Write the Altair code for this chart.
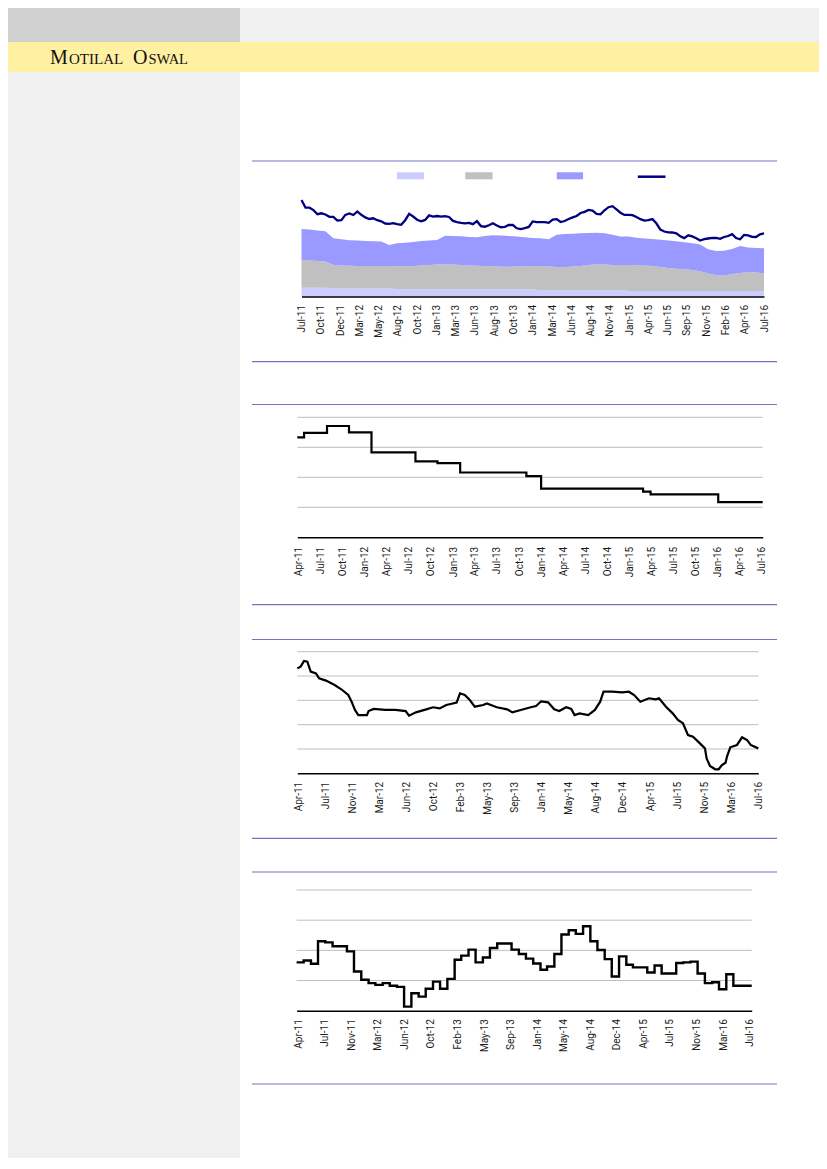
import json
import altair as alt
import pandas as pd

# ---------------- data ----------------
# Chart 1: stacked areas (monthly-ish) + navy line
c1_labels = ['Jul-11', 'Oct-11', 'Dec-11', 'Mar-12', 'May-12', 'Aug-12', 'Oct-12', 'Jan-13',
             'Mar-13', 'Jun-13', 'Aug-13', 'Oct-13', 'Jan-14', 'Mar-14', 'Jun-14', 'Aug-14',
             'Nov-14', 'Jan-15', 'Apr-15', 'Jun-15', 'Sep-15', 'Nov-15', 'Feb-16', 'Apr-16', 'Jul-16']
c1_series = ['Series 1', 'Series 2', 'Series 3']
c1_light = [4.4] * 4 + [4.1] * 8 + [3.6] * 18 + [3.1] * 11 + [2.75] * 18
c1_grey = [13.85, 13.6, 13.35, 13.1, 11.65, 11.4, 11.25, 11.15, 11.15, 11.15,
           11.15, 11.15, 11.5, 11.5, 11.65, 11.9, 12.15, 12.4, 12.5, 12.4,
           12.15, 11.9, 11.75, 11.65, 11.5, 11.3, 11.3, 11.4, 11.5, 11.65,
           12.15, 11.9, 11.65, 11.5, 11.9, 12.15, 12.65, 13.0, 12.9, 12.65,
           12.65, 13.0, 12.85, 12.7, 12.5, 12.0, 11.5, 11.1, 10.85, 10.5,
           9.9, 8.75, 8.0, 7.65, 8.5, 9.0, 9.5, 9.25, 8.85]
c1_blue = [15.5, 15.5, 15.25, 15.1, 13.35, 13.1, 12.8, 12.75, 12.5, 12.4,
           12.25, 10.5, 11.5, 11.8, 12.0, 12.25, 12.25, 12.25, 14.3, 14.25,
           14.35, 14.25, 14.25, 15.0, 15.5, 15.6, 15.35, 15.0, 14.5, 14.0,
           13.85, 13.6, 16.15, 16.65, 16.4, 16.35, 16.0, 15.8, 15.6, 15.15,
           14.25, 14.25, 13.75, 13.55, 13.5, 13.6, 13.75, 13.75, 13.5, 13.4,
           13.35, 12.1, 12.0, 12.45, 12.5, 13.5, 12.25, 12.25, 12.5]
c1_line = [48.25, 44.45, 44.4, 43.2, 41.15, 41.6, 41.0, 39.85, 39.85, 38.0,
           38.15, 40.8, 41.5, 40.75, 42.5, 40.85, 39.55, 38.75, 39.1, 38.15,
           37.6, 36.5, 36.35, 36.7, 36.2, 35.85, 38.15, 41.3, 40.0, 38.4,
           37.6, 38.3, 40.55, 39.95, 40.25, 39.95, 40.2, 39.75, 37.8, 37.2,
           36.85, 36.6, 36.85, 36.15, 37.65, 35.2, 34.9, 35.6, 36.6, 35.5,
           34.55, 34.85, 35.75, 35.75, 34.1, 33.7, 34.2, 34.8, 37.55, 37.2,
           37.15, 37.15, 36.85, 38.4, 38.7, 37.25, 37.75, 38.75, 39.55, 40.25,
           41.75, 42.3, 43.3, 43.0, 41.3, 41.1, 43.1, 44.65, 45.15, 43.6,
           41.9, 40.8, 40.85, 40.7, 39.75, 38.65, 37.95, 38.15, 38.7, 36.6,
           33.45, 32.5, 32.05, 32.0, 31.55, 30.15, 29.2, 30.6, 30.05, 29.1,
           27.95, 28.65, 29.0, 29.35, 29.25, 28.8, 29.75, 30.25, 31.2, 29.2,
           28.6, 30.8, 30.6, 29.85, 29.75, 31.1, 31.6]

# Chart 2: step series
c2_labels = ['Apr-11', 'Jul-11', 'Oct-11', 'Jan-12', 'Apr-12', 'Jul-12', 'Oct-12', 'Jan-13',
             'Apr-13', 'Jul-13', 'Oct-13', 'Jan-14', 'Apr-14', 'Jul-14', 'Oct-14', 'Jan-15',
             'Apr-15', 'Jul-15', 'Oct-15', 'Jan-16', 'Apr-16', 'Jul-16']
c2_dates = ['2011-03-28', '2011-04-25', '2011-07-29', '2011-10-28', '2012-01-29', '2012-07-29',
            '2012-10-28', '2013-01-30', '2013-10-31', '2013-12-31', '2015-02-26', '2015-03-29',
            '2016-01-03', '2016-07-05']
c2_values = [10.33, 10.48, 10.71, 10.5, 9.83, 9.53, 9.47, 9.16, 9.04, 8.62, 8.52, 8.43, 8.17, 8.17]
c2_grid = [8, 9, 10, 11]

# Chart 3: line
c3_labels = ['Apr-11', 'Jul-11', 'Nov-11', 'Mar-12', 'Jun-12', 'Oct-12', 'Feb-13', 'May-13',
             'Sep-13', 'Jan-14', 'May-14', 'Aug-14', 'Dec-14', 'Apr-15', 'Jul-15', 'Nov-15',
             'Mar-16', 'Jul-16']
c3_dates = ['2011-04-01', '2011-04-15', '2011-04-29', '2011-05-13', '2011-05-27', '2011-06-18',
            '2011-07-01', '2011-07-30', '2011-09-04', '2011-10-02', '2011-10-31', '2011-11-14',
            '2011-11-28', '2011-12-12',
            '2012-01-17', '2012-01-24', '2012-02-14', '2012-04-03', '2012-05-15', '2012-06-27',
            '2012-07-11', '2012-08-09', '2012-09-21', '2012-10-19', '2012-11-16', '2012-12-14',
            '2013-01-26', '2013-02-09', '2013-03-01', '2013-03-22', '2013-04-12', '2013-05-17',
            '2013-06-01', '2013-07-13', '2013-08-25', '2013-09-16', '2013-10-21', '2013-12-02',
            '2013-12-24',
            '2014-01-14', '2014-02-12', '2014-03-10', '2014-03-31', '2014-04-29', '2014-05-20',
            '2014-06-03', '2014-06-24', '2014-07-30', '2014-08-27', '2014-09-18', '2014-10-02',
            '2014-11-07', '2014-12-19',
            '2015-01-16', '2015-02-07', '2015-03-05', '2015-04-10', '2015-05-08', '2015-05-22',
            '2015-06-20', '2015-07-18', '2015-08-09', '2015-08-30', '2015-09-20', '2015-10-11',
            '2015-11-09', '2015-11-30', '2015-12-07', '2015-12-21',
            '2016-01-12', '2016-01-26', '2016-02-09', '2016-02-24', '2016-03-01', '2016-03-15',
            '2016-04-12', '2016-05-03', '2016-05-24', '2016-06-08', '2016-07-10']
c3_values = [8.63, 8.77, 9.24, 9.18, 8.36, 8.22,
             7.81, 7.62, 7.26, 6.91, 6.44, 5.89,
             5.21, 4.79,
             4.79, 5.12, 5.29, 5.21, 5.21, 5.12,
             4.74, 5.01, 5.26, 5.43, 5.34, 5.62,
             5.81, 6.58, 6.44, 6.03, 5.48, 5.62,
             5.75, 5.43, 5.26, 5.01, 5.21, 5.43,
             5.53,
             5.92, 5.84, 5.26, 5.12, 5.43, 5.29,
             4.79, 4.93, 4.79, 5.21, 5.89, 6.71,
             6.71, 6.66,
             6.71, 6.44, 5.89, 6.17, 6.08, 6.17,
             5.48, 4.93, 4.38, 4.11, 3.15, 3.01,
             2.46, 2.05, 1.23, 0.60,
             0.33, 0.33, 0.68, 0.87, 1.37, 2.14,
             2.33, 2.96, 2.74, 2.33, 2.05]
c3_grid = [2, 4, 6, 8, 10]

# Chart 4: monthly step series (Apr-11 .. Jul-16)
c4_labels = c3_labels
c4_values = [3.2, 3.33, 3.11, 4.6, 4.53, 4.27, 4.27, 3.93, 2.6, 2.05,
             1.83, 1.71, 1.83, 1.65, 1.58, 0.27, 1.16, 0.93, 1.45, 1.93,
             1.45, 2.11, 3.38, 3.65, 4.05, 3.2, 3.53, 4.16, 4.45, 4.45,
             4.05, 3.76, 3.45, 3.13, 2.71, 2.93, 3.76, 5.05, 5.33, 5.09,
             5.6, 4.6, 4.02, 3.42, 2.27, 3.6, 3.05, 2.87, 2.87, 2.53,
             3.0, 2.47, 2.47, 3.16, 3.2, 3.25, 2.47, 1.83, 1.89, 1.42,
             2.42, 1.65, 1.65, 1.65]
c4_grid = [2, 4, 6, 8]

# ---------------- helpers ----------------
W, H = 811, 1150
M = 8  # page margin; page coordinates below are converted by subtracting it
one = pd.DataFrame({'k': [0]})


def ms(d):
    return int(pd.Timestamp(d).value // 10**6)


def even_ticks(start, end, n):
    a, b = ms(start), ms(end)
    return [round(a + (b - a) * i / (n - 1)) for i in range(n)]


def label_expr(ticks, labels):
    t0 = ticks[0]
    step = (ticks[-1] - ticks[0]) / (len(ticks) - 1)
    return f"{json.dumps(labels)}[round((toNumber(datum.value) - {t0}) / {step})]"


def box(x0, x1, y0, y1, color):
    return alt.Chart(one).mark_rect(color=color).encode(
        x=alt.value(x0 - M), x2=alt.value(x1 - M), y=alt.value(y0 - M), y2=alt.value(y1 - M))


def hline(y, x0, x1, color, width):
    return alt.Chart(one).mark_rule(color=color, strokeWidth=width).encode(
        x=alt.value(x0 - M), x2=alt.value(x1 - M), y=alt.value(y - M))


def word(x, y, s, size):
    return alt.Chart(one).mark_text(text=s, font='Liberation Serif', fontSize=size, align='left',
                                    baseline='alphabetic', color='#111111').encode(
        x=alt.value(x - M), y=alt.value(y - M))


def x_axis(axis_y, ticks, labels, pad=8):
    return alt.Axis(orient='bottom', offset=(axis_y - M) - H, values=ticks,
                    labelExpr=label_expr(ticks, labels), labelAngle=-90, labelFlush=False,
                    labelOverlap=False, ticks=False, grid=False, domainColor='#000000',
                    domainWidth=1.5, labelColor='#1a1a1a', labelFont='Roboto', labelFontSize=10,
                    labelPadding=pad, title=None, zindex=1)


def xscale(d0, d1, px0, px1):
    return alt.Scale(domain=[ms(d0), ms(d1)], range=[px0 - M, px1 - M], nice=False)


def yscale(v0, v1, py0, py1):
    return alt.Scale(domain=[v0, v1], range=[py0 - M, py1 - M], nice=False, zero=False)


RULE = '#7373c4'

# ---------------- page decoration ----------------
deco = [
    box(8, 240, 8, 42, '#d1d1d1'),
    box(240, 819, 8, 42, '#f0f0f0'),
    box(8, 819, 42, 72, '#fff0a2'),
    box(8, 240, 72, 1158, '#f0f0f0'),
    word(50, 64.3, 'M', 20), word(69, 64.3, 'OTILAL', 15),
    word(133, 64.3, 'O', 20), word(148.5, 64.3, 'SWAL', 14.5),
]
for y in [161, 361.7, 404.5, 604.7, 639.5, 838.3, 872, 1084]:
    deco.append(hline(y, 252, 777, RULE, 1.2))

# legend swatches of chart 1 (labels are blank in the source)
deco += [
    box(397, 424, 172.3, 179.3, '#ccccff'),
    box(465.2, 492.6, 172.3, 179.3, '#c0c0c0'),
    box(556.8, 583.1, 172.3, 179.3, '#9999ff'),
    hline(176.7, 637.8, 665.5, '#000080', 2.5),
]

# ---------------- chart 1 ----------------
area_dates = pd.date_range('2011-07-01', periods=len(c1_light), freq='32D').strftime('%Y-%m-%d')
line_dates = pd.date_range('2011-07-01', periods=len(c1_line), freq='16D').strftime('%Y-%m-%d')
area_df = pd.concat([
    pd.DataFrame({'date': area_dates, 'series': name, 'ord': i, 'value': vals})
    for i, (name, vals) in enumerate(zip(c1_series, [c1_light, c1_grey, c1_blue]))
])
line_df = pd.DataFrame({'date': line_dates, 'value': c1_line})

sx1 = xscale('2011-07-01', '2016-07-30', 301.5, 764)
sy1 = yscale(0, 70, 296.5, 156.5)
ax1 = x_axis(296.5, even_ticks('2011-07-01', '2016-07-30', len(c1_labels)), c1_labels)
c1 = alt.layer(
    alt.Chart(area_df).mark_area().encode(
        x=alt.X('date:T', scale=sx1, axis=ax1),
        y=alt.Y('value:Q', stack='zero', scale=sy1, axis=None),
        color=alt.Color('series:N', scale=alt.Scale(domain=c1_series,
                                                    range=['#ccccff', '#c0c0c0', '#9999ff']),
                        legend=None),
        order=alt.Order('ord:Q')),
    alt.Chart(line_df).mark_line(color='#000080', strokeWidth=2.3).encode(
        x=alt.X('date:T', scale=sx1, axis=ax1),
        y=alt.Y('value:Q', scale=sy1, axis=None)),
)

# ---------------- chart 2 ----------------
sx2 = xscale('2011-03-28', '2016-07-05', 297.3, 762.7)
sy2 = yscale(7, 11, 537.3, 417.3)
t2 = [ms(d) for d in pd.date_range('2011-04-01', '2016-07-01', freq='QS')]
ax2 = x_axis(537.3, t2, c2_labels, pad=9)
c2 = alt.layer(
    alt.Chart(pd.DataFrame({'g': c2_grid})).mark_rule(color='#bfbfbf', strokeWidth=1).encode(
        y=alt.Y('g:Q', scale=sy2, axis=None), x=alt.value(297.3 - M), x2=alt.value(762.7 - M)),
    alt.Chart(pd.DataFrame({'date': c2_dates, 'value': c2_values})).mark_line(
        color='#000000', strokeWidth=2.2, interpolate='step-after').encode(
        x=alt.X('date:T', scale=sx2, axis=ax2),
        y=alt.Y('value:Q', scale=sy2, axis=None)),
)

# ---------------- chart 3 ----------------
sx3 = xscale('2011-04-01', '2016-07-10', 297.3, 758.3)
sy3 = yscale(0, 10, 773.3, 651.7)
ax3 = x_axis(773.3, even_ticks('2011-04-05', '2016-07-10', len(c3_labels)), c3_labels)
c3 = alt.layer(
    alt.Chart(pd.DataFrame({'g': c3_grid})).mark_rule(color='#bfbfbf', strokeWidth=1).encode(
        y=alt.Y('g:Q', scale=sy3, axis=None), x=alt.value(297.3 - M), x2=alt.value(758.3 - M)),
    alt.Chart(pd.DataFrame({'date': c3_dates, 'value': c3_values})).mark_line(
        color='#000000', strokeWidth=2.2).encode(
        x=alt.X('date:T', scale=sx3, axis=ax3),
        y=alt.Y('value:Q', scale=sy3, axis=None)),
)

# ---------------- chart 4 ----------------
c4_dates = list(pd.date_range('2011-04-01', periods=len(c4_values), freq='MS').strftime('%Y-%m-%d'))
c4_df = pd.DataFrame({'date': c4_dates + ['2016-07-18'], 'value': c4_values + [c4_values[-1]]})
sx4 = xscale('2011-04-01', '2016-07-18', 296.6, 751.7)
sy4 = yscale(0, 8, 1010.7, 890)
ax4 = x_axis(1010.7, even_ticks('2011-04-08', '2016-07-09', len(c4_labels)), c4_labels)
c4 = alt.layer(
    alt.Chart(pd.DataFrame({'g': c4_grid})).mark_rule(color='#bfbfbf', strokeWidth=1).encode(
        y=alt.Y('g:Q', scale=sy4, axis=None), x=alt.value(296.6 - M), x2=alt.value(751.7 - M)),
    alt.Chart(c4_df).mark_line(color='#000000', strokeWidth=2.4, interpolate='step-after').encode(
        x=alt.X('date:T', scale=sx4, axis=ax4),
        y=alt.Y('value:Q', scale=sy4, axis=None)),
)

chart = alt.layer(*deco, c1, c2, c3, c4).resolve_scale(
    x='independent', y='independent', color='independent'
).properties(width=W, height=H, padding=0, background='#ffffff').configure_view(stroke=None)

chart.save("out.html", embed_options={"renderer": "svg", "actions": False})
